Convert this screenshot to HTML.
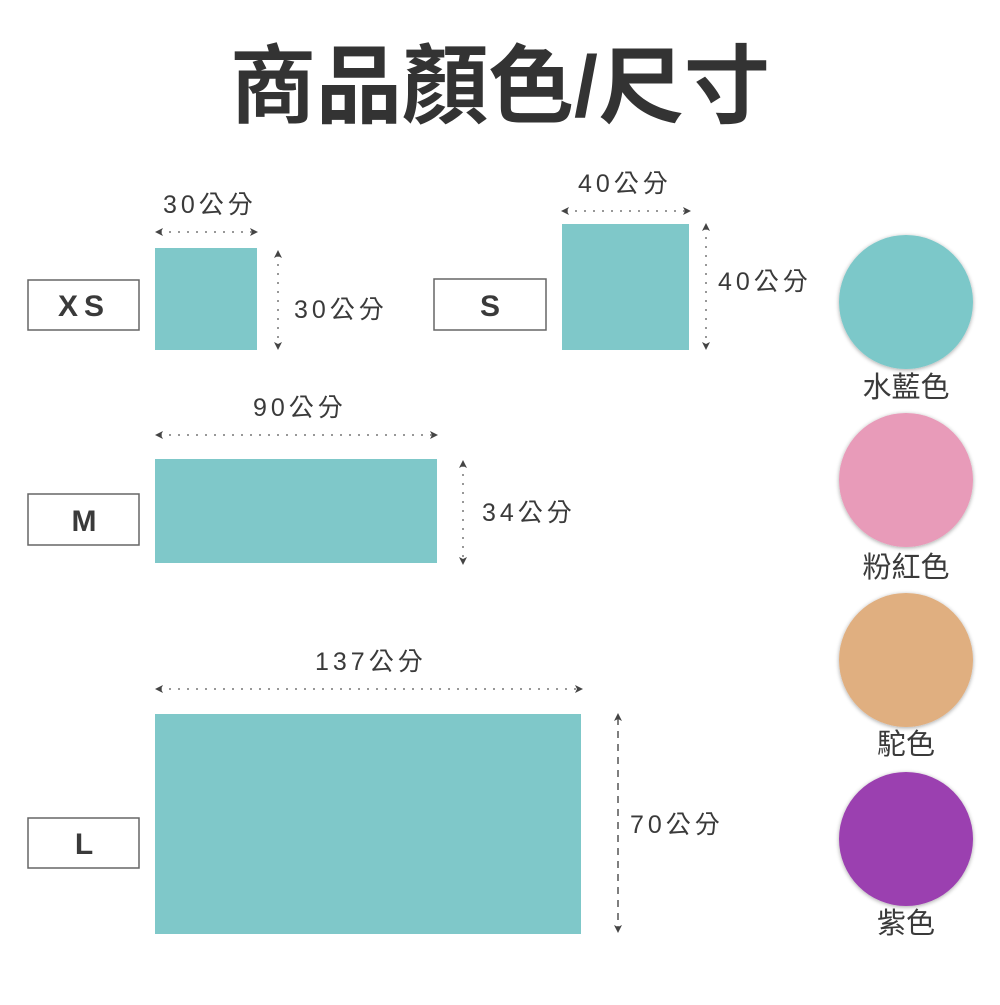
<!DOCTYPE html>
<html><head><meta charset="utf-8"><style>
html,body{margin:0;padding:0;background:#fff;}
svg text{font-family:"Liberation Sans","Noto Sans CJK TC",sans-serif;fill:#3a3a3a;}
</style></head><body>
<svg width="1000" height="1000" viewBox="0 0 1000 1000" xmlns="http://www.w3.org/2000/svg">
<defs>
<filter id="sh" x="-20%" y="-20%" width="140%" height="140%"><feGaussianBlur in="SourceAlpha" stdDeviation="2"/><feOffset dx="0" dy="1"/><feComponentTransfer><feFuncA type="linear" slope="0.35"/></feComponentTransfer><feMerge><feMergeNode/><feMergeNode in="SourceGraphic"/></feMerge></filter>
</defs>
<text x="500" y="116" text-anchor="middle" font-size="86" font-weight="bold" style="fill:#333">商品顏色/尺寸</text>

<g fill="#fff" stroke="#666" stroke-width="1.5">
<rect x="28" y="280" width="111" height="50"/>
<rect x="434" y="279" width="112" height="51"/>
<rect x="28" y="494" width="111" height="51"/>
<rect x="28" y="818" width="111" height="50"/>
</g>
<g font-size="30" font-weight="bold" text-anchor="middle">
<text x="84" y="316" letter-spacing="6">XS</text>
<text x="490" y="316">S</text>
<text x="84" y="531">M</text>
<text x="84" y="854">L</text>
</g>

<g fill="#7fc8c9">
<rect x="155" y="248" width="102" height="102"/>
<rect x="562" y="224" width="127" height="126"/>
<rect x="155" y="459" width="282" height="104"/>
<rect x="155" y="714" width="426" height="220"/>
</g>

<g stroke="#777" stroke-width="1.5" stroke-dasharray="2,7" fill="none">
<line x1="160" y1="232" x2="253" y2="232"/>
<line x1="278" y1="255" x2="278" y2="345"/>
<line x1="566" y1="211" x2="686" y2="211"/>
<line x1="706" y1="228" x2="706" y2="345"/>
<line x1="160" y1="435" x2="433" y2="435"/>
<line x1="463" y1="465" x2="463" y2="560"/>
<line x1="160" y1="689" x2="578" y2="689"/>
</g>
<line x1="618" y1="718" x2="618" y2="928" stroke="#555" stroke-width="1.5" stroke-dasharray="7,6"/>
<g fill="#444">
<path d="M155,232 l8,-4 -2,4 2,4z"/><path d="M258,232 l-8,-4 2,4 -2,4z"/>
<path d="M278,250 l-4,8 4,-2 4,2z"/><path d="M278,350 l-4,-8 4,2 4,-2z"/>
<path d="M561,211 l8,-4 -2,4 2,4z"/><path d="M691,211 l-8,-4 2,4 -2,4z"/>
<path d="M706,223 l-4,8 4,-2 4,2z"/><path d="M706,350 l-4,-8 4,2 4,-2z"/>
<path d="M155,435 l8,-4 -2,4 2,4z"/><path d="M438,435 l-8,-4 2,4 -2,4z"/>
<path d="M463,460 l-4,8 4,-2 4,2z"/><path d="M463,565 l-4,-8 4,2 4,-2z"/>
<path d="M155,689 l8,-4 -2,4 2,4z"/><path d="M583,689 l-8,-4 2,4 -2,4z"/>
<path d="M618,713 l-4,8 4,-2 4,2z"/><path d="M618,933 l-4,-8 4,2 4,-2z"/>
</g>

<g font-size="25">
<text x="163" y="213" letter-spacing="4">30公分</text>
<text x="294" y="318" letter-spacing="4">30公分</text>
<text x="578" y="192" letter-spacing="4">40公分</text>
<text x="718" y="290" letter-spacing="4">40公分</text>
<text x="253" y="416" letter-spacing="4">90公分</text>
<text x="482" y="521" letter-spacing="4">34公分</text>
<text x="315" y="670" letter-spacing="4">137公分</text>
<text x="630" y="833" letter-spacing="4">70公分</text>
</g>

<g filter="url(#sh)">
<circle cx="906" cy="302" r="67" fill="#7cc8c9"/>
<circle cx="906" cy="480" r="67" fill="#e89bb9"/>
<circle cx="906" cy="660" r="67" fill="#e0af80"/>
<circle cx="906" cy="839" r="67" fill="#9b3fb0"/>
</g>
<g font-size="29" text-anchor="middle">
<text x="906" y="397">水藍色</text>
<text x="906" y="577">粉紅色</text>
<text x="906" y="754">駝色</text>
<text x="906" y="933">紫色</text>
</g>
</svg>
</body></html>
